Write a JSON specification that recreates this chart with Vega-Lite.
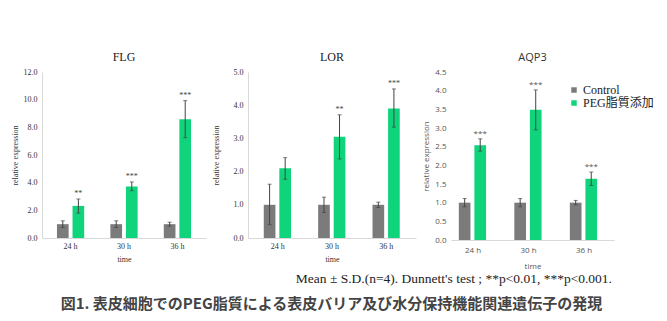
{
  "$schema": "https://vega.github.io/schema/vega-lite/v6.json",
  "padding": {"left": 11, "top": 51, "right": 2, "bottom": 2},
  "background": "white",
  "datasets": {
    "d": [
      {"gene": "FLG", "time": "24 h", "group": "Control", "mean": 1.0, "lo": 0.76, "hi": 1.24, "sig": ""},
      {"gene": "FLG", "time": "24 h", "group": "PEG脂質添加", "mean": 2.32, "lo": 1.8, "hi": 2.82, "sig": "**"},
      {"gene": "FLG", "time": "30 h", "group": "Control", "mean": 1.0, "lo": 0.76, "hi": 1.24, "sig": ""},
      {"gene": "FLG", "time": "30 h", "group": "PEG脂質添加", "mean": 3.72, "lo": 3.42, "hi": 4.05, "sig": "***"},
      {"gene": "FLG", "time": "36 h", "group": "Control", "mean": 1.0, "lo": 0.86, "hi": 1.14, "sig": ""},
      {"gene": "FLG", "time": "36 h", "group": "PEG脂質添加", "mean": 8.58, "lo": 7.25, "hi": 9.93, "sig": "***"},
      {"gene": "LOR", "time": "24 h", "group": "Control", "mean": 1.0, "lo": 0.4, "hi": 1.62, "sig": ""},
      {"gene": "LOR", "time": "24 h", "group": "PEG脂質添加", "mean": 2.1, "lo": 1.77, "hi": 2.42, "sig": ""},
      {"gene": "LOR", "time": "30 h", "group": "Control", "mean": 1.0, "lo": 0.77, "hi": 1.23, "sig": ""},
      {"gene": "LOR", "time": "30 h", "group": "PEG脂質添加", "mean": 3.05, "lo": 2.38, "hi": 3.71, "sig": "**"},
      {"gene": "LOR", "time": "36 h", "group": "Control", "mean": 1.0, "lo": 0.92, "hi": 1.08, "sig": ""},
      {"gene": "LOR", "time": "36 h", "group": "PEG脂質添加", "mean": 3.9, "lo": 3.34, "hi": 4.49, "sig": "***"},
      {"gene": "AQP3", "time": "24 h", "group": "Control", "mean": 1.0, "lo": 0.89, "hi": 1.11, "sig": ""},
      {"gene": "AQP3", "time": "24 h", "group": "PEG脂質添加", "mean": 2.54, "lo": 2.38, "hi": 2.71, "sig": "***"},
      {"gene": "AQP3", "time": "30 h", "group": "Control", "mean": 1.0, "lo": 0.89, "hi": 1.11, "sig": ""},
      {"gene": "AQP3", "time": "30 h", "group": "PEG脂質添加", "mean": 3.49, "lo": 2.95, "hi": 4.02, "sig": "***"},
      {"gene": "AQP3", "time": "36 h", "group": "Control", "mean": 1.0, "lo": 0.94, "hi": 1.06, "sig": ""},
      {"gene": "AQP3", "time": "36 h", "group": "PEG脂質添加", "mean": 1.64, "lo": 1.46, "hi": 1.82, "sig": "***"}
    ]
  },
  "title": {
    "text": "図1. 表皮細胞でのPEG脂質による表皮バリア及び水分保持機能関連遺伝子の発現",
    "orient": "bottom",
    "anchor": "middle",
    "font": "Noto Sans CJK JP",
    "fontSize": 15,
    "fontWeight": "bold",
    "color": "#444444",
    "offset": 11,
    "dx": -1
  },
  "config": {
    "view": {"stroke": null},
    "axis": {
      "grid": false,
      "ticks": false,
      "domainColor": "#d9d9d9",
      "labelFont": "Liberation Serif",
      "labelFontSize": 8,
      "labelColor": "#333333",
      "titleFont": "Liberation Serif",
      "titleFontSize": 8,
      "titleFontWeight": "normal",
      "titleColor": "#333333",
      "labelOverlap": false
    }
  },
  "vconcat": [
    {
      "title": {
        "text": "Mean ± S.D.(n=4). Dunnett's test ; **p<0.01, ***p<0.001.",
        "orient": "bottom",
        "anchor": "end",
        "font": "Liberation Serif",
        "fontSize": 13.5,
        "fontWeight": "normal",
        "color": "#222222",
        "offset": 2,
        "dx": -42
      },
      "spacing": 6,
      "resolve": {"scale": {"color": "independent"}},
      "hconcat": [
        {
          "title": {"text": "FLG", "font": "Liberation Serif", "fontSize": 12, "fontWeight": "normal", "color": "#222222", "offset": 4},
          "width": 164,
          "height": 166,
          "data": {"name": "d"},
          "transform": [{"filter": "datum.gene == 'FLG'"}],
          "encoding": {
            "x": {"field": "time", "type": "nominal", "sort": ["24 h", "30 h", "36 h"], "scale": {"paddingInner": 0.49, "paddingOuter": 0.28}, "axis": {"labelAngle": 0, "title": "time", "labelPadding": 4, "titlePadding": 5}},
            "xOffset": {"field": "group", "type": "nominal", "sort": ["Control", "PEG脂質添加"], "scale": {"paddingInner": 0.25}}
          },
          "layer": [
            {
              "mark": {"type": "bar"},
              "encoding": {
                "y": {"field": "mean", "type": "quantitative", "title": "relative expression", "scale": {"domain": [0, 12]}, "axis": {"values": [0, 2, 4, 6, 8, 10, 12], "format": ".1f", "labelPadding": 5, "titlePadding": 4}},
                "color": {"field": "group", "type": "nominal", "scale": {"domain": ["Control", "PEG脂質添加"], "range": ["#7b7b7b", "#10d47b"]}, "legend": null}
              }
            },
            {
              "mark": {"type": "errorbar", "ticks": {"size": 4}, "color": "#444444", "thickness": 1},
              "encoding": {"y": {"field": "lo", "type": "quantitative", "title": "relative expression", "axis": {"values": [0, 2, 4, 6, 8, 10, 12], "format": ".1f", "labelPadding": 5, "titlePadding": 4}}, "y2": {"field": "hi"}}
            },
            {
              "mark": {"type": "text", "dy": -5, "font": "Liberation Serif", "fontSize": 8, "color": "#444444"},
              "encoding": {"y": {"field": "hi", "type": "quantitative", "title": "relative expression", "axis": {"values": [0, 2, 4, 6, 8, 10, 12], "format": ".1f", "labelPadding": 5, "titlePadding": 4}}, "text": {"field": "sig"}}
            }
          ]
        },
        {
          "title": {"text": "LOR", "font": "Liberation Serif", "fontSize": 12, "fontWeight": "normal", "color": "#222222", "offset": 4},
          "width": 168,
          "height": 166,
          "data": {"name": "d"},
          "transform": [{"filter": "datum.gene == 'LOR'"}],
          "encoding": {
            "x": {"field": "time", "type": "nominal", "sort": ["24 h", "30 h", "36 h"], "scale": {"paddingInner": 0.49, "paddingOuter": 0.29}, "axis": {"labelAngle": 0, "title": "time", "labelPadding": 4, "titlePadding": 5}},
            "xOffset": {"field": "group", "type": "nominal", "sort": ["Control", "PEG脂質添加"], "scale": {"paddingInner": 0.25}}
          },
          "layer": [
            {
              "mark": {"type": "bar"},
              "encoding": {
                "y": {"field": "mean", "type": "quantitative", "title": "relative expression", "scale": {"domain": [0, 5]}, "axis": {"values": [0, 1, 2, 3, 4, 5], "format": ".1f", "labelPadding": 5, "titlePadding": 13}},
                "color": {"field": "group", "type": "nominal", "scale": {"domain": ["Control", "PEG脂質添加"], "range": ["#7b7b7b", "#10d47b"]}, "legend": null}
              }
            },
            {
              "mark": {"type": "errorbar", "ticks": {"size": 4}, "color": "#444444", "thickness": 1},
              "encoding": {"y": {"field": "lo", "type": "quantitative", "title": "relative expression", "axis": {"values": [0, 1, 2, 3, 4, 5], "format": ".1f", "labelPadding": 5, "titlePadding": 13}}, "y2": {"field": "hi"}}
            },
            {
              "mark": {"type": "text", "dy": -5, "font": "Liberation Serif", "fontSize": 8, "color": "#444444"},
              "encoding": {"y": {"field": "hi", "type": "quantitative", "title": "relative expression", "axis": {"values": [0, 1, 2, 3, 4, 5], "format": ".1f", "labelPadding": 5, "titlePadding": 13}}, "text": {"field": "sig"}}
            }
          ]
        },
        {
          "title": {"text": "AQP3", "font": "Open Sans", "fontSize": 11, "fontWeight": "normal", "color": "#333333", "offset": 5},
          "width": 163,
          "height": 168,
          "data": {"name": "d"},
          "transform": [{"filter": "datum.gene == 'AQP3'"}],
          "encoding": {
            "x": {"field": "time", "type": "nominal", "sort": ["24 h", "30 h", "36 h"], "scale": {"paddingInner": 0.49, "paddingOuter": 0.213, "align": 0.33}, "axis": {"labelAngle": 0, "title": "time", "labelPadding": 6, "titlePadding": 8, "labelFont": "Open Sans", "titleFont": "Open Sans", "labelColor": "#555555", "titleColor": "#555555"}},
            "xOffset": {"field": "group", "type": "nominal", "sort": ["Control", "PEG脂質添加"], "scale": {"paddingInner": 0.25}}
          },
          "layer": [
            {
              "mark": {"type": "bar"},
              "encoding": {
                "y": {"field": "mean", "type": "quantitative", "title": "relative expression", "scale": {"domain": [0, 4.5]}, "axis": {"values": [0, 0.5, 1, 1.5, 2, 2.5, 3, 3.5, 4, 4.5], "format": ".1f", "labelPadding": 5, "titlePadding": 4, "domain": false, "labelFont": "Open Sans", "titleFont": "Open Sans", "labelColor": "#555555", "titleColor": "#555555"}},
                "color": {"field": "group", "type": "nominal", "scale": {"domain": ["Control", "PEG脂質添加"], "range": ["#7b7b7b", "#10d47b"]}, "legend": {"orient": "none", "legendX": 117, "legendY": 12, "title": null, "labelFont": "Liberation Serif, Noto Sans CJK JP", "labelFontSize": 12, "labelColor": "#222222", "symbolType": "square", "symbolSize": 30, "symbolStrokeWidth": 0, "rowPadding": 1, "labelOffset": 3}}
              }
            },
            {
              "mark": {"type": "errorbar", "ticks": {"size": 4}, "color": "#444444", "thickness": 1},
              "encoding": {"y": {"field": "lo", "type": "quantitative", "title": "relative expression", "axis": {"values": [0, 0.5, 1, 1.5, 2, 2.5, 3, 3.5, 4, 4.5], "format": ".1f", "labelPadding": 5, "titlePadding": 4, "domain": false, "labelFont": "Open Sans", "titleFont": "Open Sans", "labelColor": "#555555", "titleColor": "#555555"}}, "y2": {"field": "hi"}}
            },
            {
              "mark": {"type": "text", "dy": -5, "font": "Open Sans", "fontSize": 8, "color": "#555555"},
              "encoding": {"y": {"field": "hi", "type": "quantitative", "title": "relative expression", "axis": {"values": [0, 0.5, 1, 1.5, 2, 2.5, 3, 3.5, 4, 4.5], "format": ".1f", "labelPadding": 5, "titlePadding": 4, "domain": false, "labelFont": "Open Sans", "titleFont": "Open Sans", "labelColor": "#555555", "titleColor": "#555555"}}, "text": {"field": "sig"}}
            }
          ]
        }
      ]
    }
  ]
}
